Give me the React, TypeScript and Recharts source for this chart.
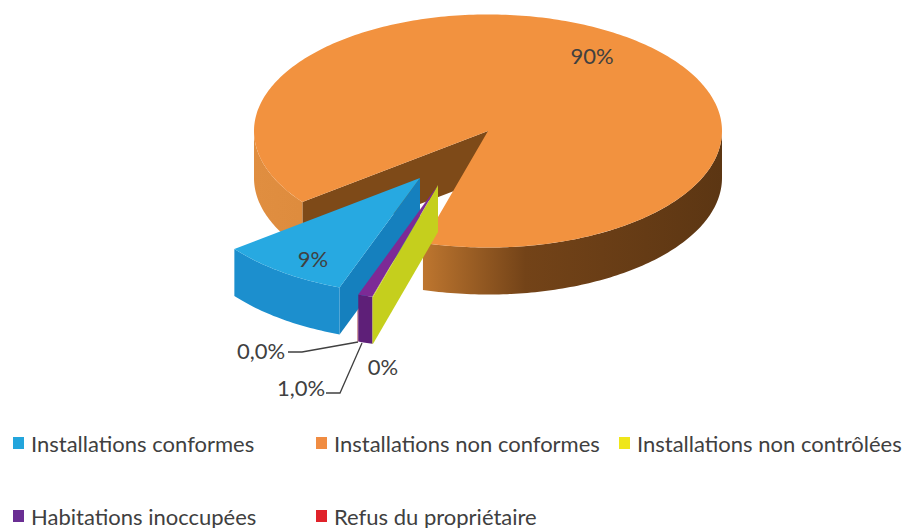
import React from "react";
import { PieChart, Pie, Legend } from "recharts";

// Data, in clockwise drawing order starting from the left edge of the big slice
const categories = [
  "Installations non conformes",
  "Installations non contrôlées",
  "Habitations inoccupées",
  "Refus du propriétaire",
  "Installations conformes",
];
const values = [89.9, 0.05, 1.0, 0.05, 9.0];
const valueLabels = ["90%", "0%", "1,0%", "0,0%", "9%"];
const legendOrder = [4, 0, 1, 2, 3];

// Styles and layout
const topColors = ["#F2923F", "#C9D31F", "#7D2A96", "#C0272D", "#27A9E1"];
const legendColors = ["#F08C42", "#EFE61A", "#6A2E93", "#E0222A", "#23A5DC"];
const wallColors = ["url(#orangeWall)", "#C2CC1C", "#5E1F78", "#8E1A20", "#1C8FCE"];
const cutColors = ["#7E4A18", "#C5CF1D", "#6A2282", "#8E1A20", "#1580BE"];
const explode = [
  [0, 0],
  [-50, 54],
  [-50, 54],
  [-50, 54],
  [-68, 47],
];
const hideStartWall = [false, false, true, true, false];
const frontLayer = [false, true, true, false, false]; // painted over the blue slice
const CX = 488;
const CY = 131;
const R = 234;
const TILT = 0.498;
const DEPTH = 47;
const labelPos = [
  [592, 55],
  [383, 366],
  [301, 387],
  [261, 350],
  [313, 258],
];
const leaders: (string | null)[] = [
  null,
  null,
  "326,393 340,393 362,343",
  "288,352 302,352 358,342",
  null,
];
const legendPos = [
  [13, 443],
  [316, 443],
  [619, 443],
  [13, 516],
  [316, 516],
];

const data = categories.map((name, i) => ({ name, value: values[i] }));

const pt = (cx: number, cy: number, r: number, a: number): [number, number] => [
  cx + r * Math.cos((a * Math.PI) / 180),
  cy - r * TILT * Math.sin((a * Math.PI) / 180),
];
const poly = (pts: [number, number][]) =>
  "M" + pts.map((p) => p[0].toFixed(2) + "," + p[1].toFixed(2)).join("L") + "Z";

function arcPts(cx: number, cy: number, r: number, from: number, to: number) {
  const out: [number, number][] = [];
  const n = Math.max(1, Math.ceil(Math.abs(to - from)));
  for (let i = 0; i <= n; i++) out.push(pt(cx, cy, r, from + ((to - from) * i) / n));
  return out;
}

function Slice(props: any) {
  const { startAngle, endAngle, outerRadius, index } = props;
  const i = index ?? 0;
  const r = outerRadius;
  const s = Math.max(startAngle, endAngle);
  const e = Math.min(startAngle, endAngle);
  const cx = props.cx + explode[i][0];
  const cy = props.cy + explode[i][1];
  const walls: React.ReactNode[] = [];
  // outer wall: only the part of the rim facing the viewer
  for (let k = -1; k <= 1; k++) {
    const lo = Math.max(e, 180 + 360 * k);
    const hi = Math.min(s, 360 + 360 * k);
    if (hi > lo) {
      const top = arcPts(cx, cy, r, lo, hi);
      const bottom = top.map((p) => [p[0], p[1] + DEPTH] as [number, number]).reverse();
      walls.push(<path key={"o" + k} d={poly([...top, ...bottom])} fill={wallColors[i]} />);
    }
  }
  // radial cut wall on the start edge
  const outer = pt(cx, cy, r, s);
  const cut = !hideStartWall[i] && (
    <path
      d={poly([
        [cx, cy],
        outer,
        [outer[0], outer[1] + DEPTH],
        [cx, cy + DEPTH],
      ])}
      fill={cutColors[i]}
    />
  );
  return (
    <g>
      {cut}
      {walls}
      <path d={poly([[cx, cy], ...arcPts(cx, cy, r, s, e)])} fill={topColors[i]} />
    </g>
  );
}

const BackSlice = (props: any) => (frontLayer[props.index ?? 0] ? <g /> : <Slice {...props} />);
const FrontSlice = (props: any) => (frontLayer[props.index ?? 0] ? <Slice {...props} /> : <g />);

function ValueLabel(props: any) {
  const i = props.index ?? 0;
  return (
    <g>
      {leaders[i] && <polyline points={leaders[i] as string} fill="none" stroke="#404040" strokeWidth={1.3} />}
      <text
        x={labelPos[i][0]}
        y={labelPos[i][1]}
        textAnchor="middle"
        dominantBaseline="central"
        fontFamily="Lato"
        fontSize={22}
        fill="#404040"
      >
        {valueLabels[i]}
      </text>
    </g>
  );
}

function LegendBody() {
  return (
    <div style={{ position: "relative", width: 904, height: 528 }}>
      {legendOrder.map((d, i) => (
        <div
          key={categories[d]}
          style={{
            position: "absolute",
            left: legendPos[i][0],
            top: legendPos[i][1] - 14,
            height: 28,
            display: "flex",
            alignItems: "center",
            whiteSpace: "nowrap",
            fontFamily: "Lato",
            fontSize: 22,
            color: "#404040",
          }}
        >
          <span style={{ width: 11, height: 12, marginRight: 7, background: legendColors[d], display: "inline-block" }} />
          {categories[d]}
        </div>
      ))}
    </div>
  );
}

export default function App() {
  const common = {
    data,
    dataKey: "value",
    nameKey: "name",
    cx: CX,
    cy: CY,
    innerRadius: 0,
    outerRadius: R,
    startAngle: 217.5,
    endAngle: -142.5,
    paddingAngle: 0,
    stroke: "none",
    isAnimationActive: false,
  };
  return (
    <div style={{ position: "absolute", left: 0, top: 0, width: 904, height: 528, background: "#fff" }}>
      <PieChart width={904} height={528} margin={{ top: 0, right: 0, bottom: 0, left: 0 }}>
        <defs>
          <linearGradient id="orangeWall" gradientUnits="userSpaceOnUse" x1={254} y1={0} x2={722} y2={0}>
            <stop offset="0" stopColor="#E08E40" />
            <stop offset="0.1" stopColor="#DE8C3E" />
            <stop offset="0.36" stopColor="#BE762F" />
            <stop offset="0.58" stopColor="#734318" />
            <stop offset="1" stopColor="#5C3613" />
          </linearGradient>
        </defs>
        <Pie {...common} shape={BackSlice} labelLine={false} />
        <Pie {...common} shape={FrontSlice} label={ValueLabel} labelLine={false} />
        <Legend
          content={LegendBody}
          wrapperStyle={{ position: "absolute", left: 0, top: 0, width: 904, height: 528, margin: 0, pointerEvents: "none" }}
        />
      </PieChart>
    </div>
  );
}
